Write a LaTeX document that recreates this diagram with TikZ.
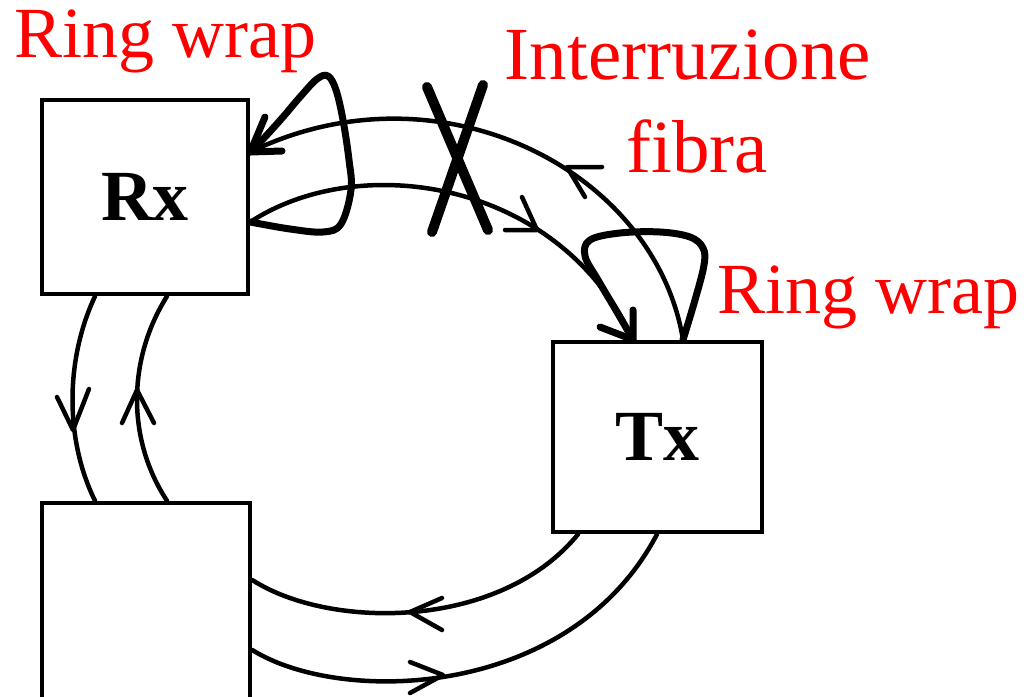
\documentclass[tikz,border=0pt]{standalone}
\usepackage{fontspec}
\setmainfont{Liberation Serif}
\begin{document}
\begin{tikzpicture}[x=1pt,y=-1pt,
  box/.style={draw, line width=4.5pt, inner sep=0pt, font=\fontsize{72}{80}\selectfont\bfseries},
  fib/.style={line width=4.5pt, line cap=round, line join=round},
  wrap/.style={line width=7pt, line cap=round, line join=round},
  cut/.style={line width=10pt, line cap=round},
  lbl/.style={text=red, inner sep=0pt}]
\useasboundingbox (0,0) rectangle (1030,696);
% boxes
\node[box, minimum width=206pt, minimum height=194pt] (rx) at (145,197) {Rx};
\node[box, minimum width=208pt, minimum height=204pt] (bl) at (146,605) {};
\node[box, minimum width=209pt, minimum height=190pt] (tx) at (657.5,437) {Tx};
% end points on the boxes
\coordinate (rxo) at (rx.east |- 0,152);
\coordinate (rxi) at (rx.east |- 0,222);
\coordinate (txo) at (tx.north -| 683,0);
\coordinate (txi) at (tx.north -| 633,0);
\coordinate (rxl1) at (rx.south -| 95,0);
\coordinate (rxl2) at (rx.south -| 167,0);
\coordinate (bll1) at (bl.north -| 95,0);
\coordinate (bll2) at (bl.north -| 167,0);
\coordinate (blr1) at (bl.east |- 0,580);
\coordinate (blr2) at (bl.east |- 0,650);
\coordinate (txb1) at (tx.south -| 578,0);
\coordinate (txb2) at (tx.south -| 657,0);
% top fibres
\draw[fib] (txo) .. controls (655,170) and (440,60) .. (rxo);
\draw[fib] (rxi) .. controls (360,150) and (560,180) .. (txi);
\draw[fib] (602,167) -- (567,167) -- (585,197);
\draw[fib] (505,230) -- (537,230) -- (522,197);
% left fibres
\draw[fib] (rxl1) .. controls (65,360) and (65,440) .. (bll1);
\draw[fib] (bll2) .. controls (127,440) and (127,360) .. (rxl2);
\draw[fib] (57,397) -- (73,430) -- (89,389);
\draw[fib] (122,423) -- (137,390) -- (154,423);
% bottom fibres
\draw[fib] (txb1) .. controls (500,630) and (330,630) .. (blr1);
\draw[fib] (blr2) .. controls (340,705) and (570,700) .. (txb2);
\draw[fib] (442,598) -- (410,612) -- (442,630);
\draw[fib] (410,662) -- (443,675) -- (410,693);
% ring wrap loops
\draw[wrap] plot[smooth, tension=0.6] coordinates {(rxi) (290,229) (323,232) (341,224) (351,190) (349,160) (343,120) (336,90) (328,76) (317,79) (300,97) (283,117) (265,137) (rxo)};
\draw[wrap] (265,117) -- (rxo) -- (282,151);
\draw[wrap] plot[smooth, tension=0.6] coordinates {(txo) (695,300) (704,265) (703,248) (690,237) (660,232) (620,233) (590,240) (585,256) (598,280) (617,312) (txi)};
\draw[wrap] (633,310) -- (txi) -- (600,327);
% fibre cut
\draw[cut] (427,87) -- (488,230);
\draw[cut] (483,85) -- (432,232);
% labels
\node[lbl, anchor=base west, font=\fontsize{72}{80}\selectfont] (rw1) at (14,57) {Ring wrap};
\node[lbl, anchor=base west, font=\fontsize{72}{80}\selectfont] (rw2) at (717,313) {Ring wrap};
\node[lbl, align=center, font=\fontsize{75}{93}\selectfont] (cutl) at (688,102) {Interruzione\\\hspace*{18pt}fibra};
\end{tikzpicture}
\end{document}
